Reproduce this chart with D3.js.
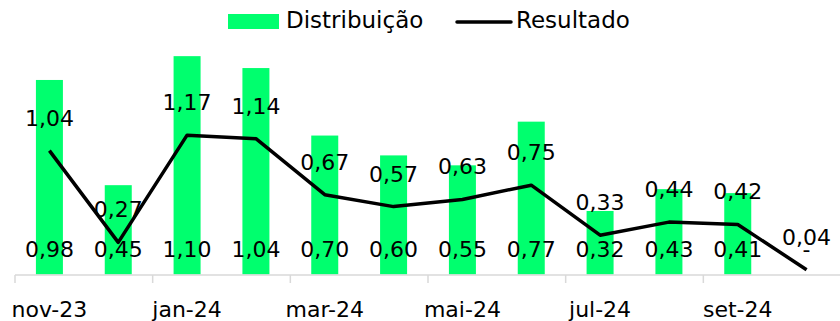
<!DOCTYPE html>
<html>
<head>
<meta charset="utf-8">
<script src="https://cdn.jsdelivr.net/npm/d3@7/dist/d3.min.js"></script>
<style>
  html, body { margin: 0; padding: 0; background: #fff; }
  svg { display: block; font-family: "DejaVu Sans", sans-serif; }
</style>
</head>
<body>
<svg id="chart" width="840" height="321"></svg>
<script>
const categories = ["nov-23","dez-23","jan-24","fev-24","mar-24","abr-24","mai-24","jun-24","jul-24","ago-24","set-24","out-24"];
const distribuicao = [0.98, 0.45, 1.10, 1.04, 0.70, 0.60, 0.55, 0.77, 0.32, 0.43, 0.41, 0];
const resultado = [1.04, 0.27, 1.17, 1.14, 0.67, 0.57, 0.63, 0.75, 0.33, 0.44, 0.42, 0.04];
const tickLabels = ["nov-23","jan-24","mar-24","mai-24","jul-24","set-24"];
const seriesNames = ["Distribuição", "Resultado"];

const GREEN = "rgb(0,255,110)";
const svg = d3.select("#chart");

const plotTop = 36.3, plotBottom = 274.5, plotLeft = 15, plotRight = 841;

const x = d3.scaleBand().domain(categories).range([plotLeft, plotRight]).padding(0);
const yBar = d3.scaleLinear().domain([0, 1.2]).range([plotBottom, plotTop]);
const yLine = d3.scaleLinear().domain([0, 2.0]).range([plotBottom, plotTop]);
const barW = 27;
const fmt = v => v === 0 ? "-" : d3.format(".2f")(v).replace(".", ",");

// bars
svg.append("g").selectAll("rect").data(categories).join("rect")
  .attr("x", (c) => x(c) + x.bandwidth()/2 - barW/2)
  .attr("y", (c, i) => yBar(distribuicao[i]))
  .attr("width", barW)
  .attr("height", (c, i) => plotBottom - yBar(distribuicao[i]))
  .attr("fill", GREEN);

// x axis
const axisG = svg.append("g");
axisG.append("line").attr("x1", plotLeft).attr("x2", 840).attr("y1", 275).attr("y2", 275)
  .attr("stroke", "#d9d9d9").attr("stroke-width", 1.5);
categories.forEach((c, i) => {
  if (i % 2 === 0) {
    axisG.append("line").attr("x1", x(c)).attr("x2", x(c)).attr("y1", 275).attr("y2", 283)
      .attr("stroke", "#d9d9d9").attr("stroke-width", 1.5);
  }
});
axisG.selectAll("text").data(tickLabels).join("text")
  .attr("x", d => x(d) + x.bandwidth()/2)
  .attr("y", 317)
  .attr("text-anchor", "middle")
  .attr("font-size", 22)
  .attr("fill", "#000")
  .text(d => d);

// line
const line = d3.line()
  .x((d, i) => x(categories[i]) + x.bandwidth()/2)
  .y(d => yLine(d));
svg.append("path").datum(resultado)
  .attr("d", line)
  .attr("fill", "none")
  .attr("stroke", "#000")
  .attr("stroke-width", 3.5)
  .attr("stroke-linejoin", "round");

// bar labels
svg.append("g").selectAll("text").data(categories).join("text")
  .attr("x", c => x(c) + x.bandwidth()/2)
  .attr("y", 256.5)
  .attr("text-anchor", "middle")
  .attr("font-size", 22)
  .attr("fill", "#000")
  .text((c, i) => fmt(distribuicao[i]));

// line labels
svg.append("g").selectAll("text").data(categories).join("text")
  .attr("x", c => x(c) + x.bandwidth()/2)
  .attr("y", (c, i) => yLine(resultado[i]) - 25)
  .attr("text-anchor", "middle")
  .attr("font-size", 22)
  .attr("fill", "#000")
  .text((c, i) => fmt(resultado[i]));

// legend
const lg = svg.append("g");
lg.append("rect").attr("x", 228).attr("y", 14).attr("width", 51).attr("height", 15).attr("fill", GREEN);
lg.append("text").attr("x", 286).attr("y", 28).attr("font-size", 23).attr("fill", "#000").text(seriesNames[0]);
lg.append("line").attr("x1", 457).attr("x2", 511).attr("y1", 22).attr("y2", 22)
  .attr("stroke", "#000").attr("stroke-width", 3.5).attr("stroke-linecap", "round");
lg.append("text").attr("x", 516).attr("y", 28).attr("font-size", 23).attr("fill", "#000").text(seriesNames[1]);
</script>
</body>
</html>
